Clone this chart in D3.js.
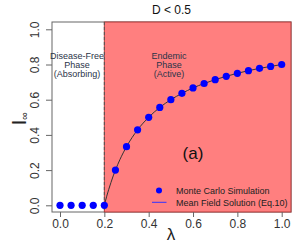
<!DOCTYPE html>
<html><head><meta charset="utf-8">
<script src="https://cdn.jsdelivr.net/npm/d3@7"></script>
<style>body{margin:0;background:#fff}svg{display:block;font-family:"Liberation Sans",Arial,sans-serif}</style>
</head><body>
<svg id="c" width="299" height="249"></svg>
<script>
const mcLambda = [0,0.05,0.1,0.15,0.2,0.25,0.3,0.35,0.4,0.45,0.5,0.55,0.6,0.65,0.7,0.75,0.8,0.85,0.9,0.95,1.0];
const mcValue  = [0,0,0,0,0,0.2,0.333,0.429,0.5,0.556,0.6,0.636,0.667,0.692,0.714,0.733,0.75,0.765,0.778,0.789,0.8];
const mfLambda = [0.2,0.21,0.22,0.23,0.24,0.25,0.27,0.3,0.35,0.4,0.45,0.5,0.55,0.6,0.65,0.7,0.75,0.8,0.85,0.9,0.95,1.0];
const mfValue  = [0,0.048,0.091,0.13,0.167,0.2,0.259,0.333,0.429,0.5,0.556,0.6,0.636,0.667,0.692,0.714,0.733,0.75,0.765,0.778,0.789,0.8];
const xTicks = [0,0.2,0.4,0.6,0.8,1.0];
const yTicks = [0,0.2,0.4,0.6,0.8,1.0];
const threshold = 0.2;

const svg = d3.select("#c");
const L=52, R=291, T=22, B=212;
const x = d3.scaleLinear().domain([0,1]).range([60,281.7]);
const y = d3.scaleLinear().domain([0,1]).range([205.3,29.3]);

svg.append("rect").attr("x",L).attr("y",T).attr("width",R-L).attr("height",B-T)
  .attr("fill","#fff").attr("stroke","#666").attr("stroke-width",1);
svg.append("rect").attr("x",x(threshold)).attr("y",T).attr("width",R-x(threshold)).attr("height",B-T)
  .attr("fill","#ff7f7f").attr("stroke","#b03a3a").attr("stroke-width",1);
svg.append("line").attr("x1",x(threshold)).attr("x2",x(threshold)).attr("y1",T).attr("y2",B)
  .attr("stroke","#555").attr("stroke-dasharray","3,2").attr("stroke-width",1);

const gx = svg.append("g").attr("transform",`translate(0,${B})`)
  .call(d3.axisBottom(x).tickValues(xTicks).tickFormat(d3.format(".1f")).tickSize(5).tickSizeOuter(0));
gx.select(".domain").remove();
gx.selectAll("line").attr("stroke","#666");
gx.selectAll("text").attr("font-size",12).attr("fill","#333").attr("dy","0.95em").attr("y",5);

const gy = svg.append("g").attr("transform",`translate(${L},0)`)
  .call(d3.axisLeft(y).tickValues(yTicks).tickFormat(d3.format(".1f")).tickSize(6).tickSizeOuter(0));
gy.select(".domain").remove();
gy.selectAll("line").attr("stroke","#666");
gy.selectAll("text").attr("font-size",12).attr("fill","#333")
  .attr("x",null).attr("dy",null)
  .attr("text-anchor","middle")
  .attr("transform","translate(-13,0) rotate(-90)");

const line = d3.line().x((d,i)=>x(mfLambda[i])).y(d=>y(d)).curve(d3.curveMonotoneX);
svg.append("path").datum(mfValue).attr("d",line).attr("fill","none").attr("stroke","#333").attr("stroke-width",1);

svg.selectAll("circle.mc").data(mcValue).enter().append("circle")
  .attr("cx",(d,i)=>x(mcLambda[i])).attr("cy",d=>y(d)).attr("r",3.6).attr("fill","#0000ff");

svg.append("text").attr("x",171.5).attr("y",14).attr("text-anchor","middle").attr("font-size",12).attr("fill","#111").text("D < 0.5");
const phase = (cx, lines)=>lines.forEach((t,i)=>svg.append("text").attr("x",cx).attr("y",59+i*9)
  .attr("text-anchor","middle").attr("font-size",9).attr("fill","#2a3448").text(t));
phase(77,["Disease-Free","Phase","(Absorbing)"]);
phase(169,["Endemic","Phase","(Active)"]);
svg.append("text").attr("x",193).attr("y",159).attr("text-anchor","middle").attr("font-size",17).attr("fill","#111").text("(a)");

svg.append("circle").attr("cx",159).attr("cy",190.5).attr("r",3).attr("fill","#0000ff");
svg.append("text").attr("x",176).attr("y",193.5).attr("font-size",9).attr("fill","#222").text("Monte Carlo Simulation");
svg.append("line").attr("x1",152).attr("x2",166.5).attr("y1",202.3).attr("y2",202.3).attr("stroke","#3333ff").attr("stroke-width",1);
svg.append("text").attr("x",176).attr("y",205.5).attr("font-size",9).attr("fill","#222").text("Mean Field Solution (Eq.10)");

svg.append("text").attr("x",171).attr("y",240).attr("text-anchor","middle").attr("font-size",17).attr("fill","#222").text("λ");
const yl = svg.append("text").attr("transform","translate(26,125.5) rotate(-90)").attr("fill","#222");
yl.append("tspan").attr("font-size",21).text("I");
yl.append("tspan").attr("font-size",11).attr("dy",1.5).text("∞");
</script>
</body></html>
